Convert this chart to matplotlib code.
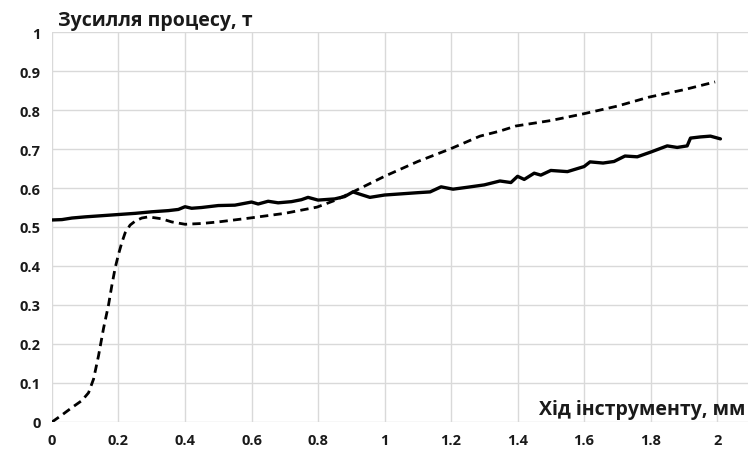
import matplotlib
matplotlib.use("Agg")
import matplotlib.pyplot as plt
from matplotlib.ticker import MultipleLocator, FuncFormatter

plt.rcParams['font.family'] = ['Open Sans', 'DejaVu Sans']

# solid line (wavy, slowly rising)
x_solid = [0.0, 0.03, 0.06, 0.1, 0.15, 0.2, 0.25, 0.3, 0.35, 0.38, 0.4, 0.42, 0.45,
           0.5, 0.55, 0.6, 0.62, 0.65, 0.68, 0.72, 0.75, 0.77, 0.8, 0.85, 0.88,
           0.905, 0.93, 0.956, 1.0, 1.05, 1.1, 1.137, 1.17, 1.206, 1.25, 1.3,
           1.347, 1.38, 1.4, 1.42, 1.45, 1.47, 1.5, 1.55, 1.6, 1.618, 1.657,
           1.69, 1.723, 1.76, 1.8, 1.85, 1.88, 1.91, 1.92, 1.95, 1.98, 2.01]
y_solid = [0.518, 0.519, 0.523, 0.526, 0.529, 0.532, 0.535, 0.539, 0.542, 0.545, 0.552,
           0.548, 0.550, 0.555, 0.556, 0.564, 0.559, 0.566, 0.562, 0.565, 0.570,
           0.576, 0.569, 0.572, 0.578, 0.590, 0.583, 0.576, 0.582, 0.585, 0.588,
           0.590, 0.603, 0.597, 0.602, 0.608, 0.618, 0.614, 0.630, 0.622, 0.638,
           0.633, 0.645, 0.642, 0.655, 0.667, 0.664, 0.668, 0.682, 0.680, 0.692,
           0.708, 0.704, 0.708, 0.728, 0.731, 0.733, 0.726]

# dashed line (steep rise, then growth)
x_dash = [0.0, 0.03, 0.06, 0.09, 0.11, 0.125, 0.14, 0.155, 0.17, 0.18, 0.19,
          0.2, 0.21, 0.22, 0.235, 0.25, 0.27, 0.29, 0.33, 0.36, 0.4, 0.45, 0.5,
          0.595, 0.7, 0.797, 0.85, 0.905, 1.0, 1.1, 1.197, 1.287, 1.347, 1.395,
          1.5, 1.597, 1.7, 1.795, 1.9, 1.994]
y_dash = [0.0, 0.018, 0.037, 0.055, 0.075, 0.11, 0.17, 0.24, 0.30, 0.35, 0.395,
          0.43, 0.46, 0.485, 0.505, 0.515, 0.523, 0.526, 0.521, 0.513, 0.507,
          0.509, 0.513, 0.523, 0.535, 0.551, 0.568, 0.59, 0.63, 0.668, 0.70,
          0.733, 0.746, 0.759, 0.773, 0.79, 0.81, 0.833, 0.852, 0.872]

fig = plt.figure(figsize=(7.49, 4.56), dpi=100)
ax = fig.add_axes([0.0694, 0.0724, 0.9293, 0.8552])

ax.plot(x_solid, y_solid, color='black', lw=2.4, solid_capstyle='round',
        solid_joinstyle='round', zorder=3)
ax.plot(x_dash, y_dash, color='black', lw=2.0, dashes=(3.0, 1.9), zorder=3)

ax.set_xlim(0, 2.093)
ax.set_ylim(0, 1)
ax.xaxis.set_major_locator(MultipleLocator(0.2))
ax.yaxis.set_major_locator(MultipleLocator(0.1))
fmt = FuncFormatter(lambda v, p: ('%.1f' % v).rstrip('0').rstrip('.') if abs(v) > 1e-9 else '0')
ax.xaxis.set_major_formatter(fmt)
ax.yaxis.set_major_formatter(fmt)
ax.grid(True, color='#d9d9d9', lw=1.0)
ax.set_axisbelow(True)
for s in ax.spines.values():
    s.set_visible(False)
ax.tick_params(length=0, labelsize=10.5, colors='#1a1a1a')
ax.tick_params(axis='x', pad=8)
ax.tick_params(axis='y', pad=8)
for lab in ax.get_xticklabels() + ax.get_yticklabels():
    lab.set_fontweight('bold')

fig.text(0.077, 0.955, 'Зусилля процесу, т', fontsize=14, fontweight='bold',
         color='#1a1a1a', ha='left', va='center')
fig.text(0.995, 0.101, 'Хід інструменту, мм', fontsize=14, fontweight='bold',
         color='#1a1a1a', ha='right', va='center')

fig.savefig('out.png', dpi=100, facecolor='white')
